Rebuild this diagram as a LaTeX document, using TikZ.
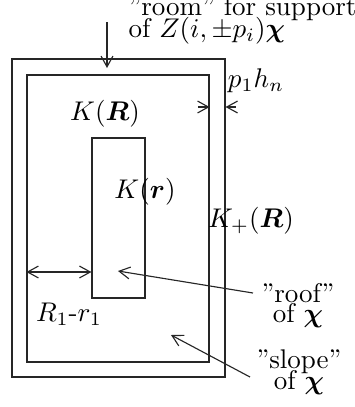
\documentclass[tikz,border=0pt]{standalone}
\usepackage{amsmath}
\usepackage{tikz}
\usetikzlibrary{arrows.meta}

\newlength\pxu
\setlength\pxu{0.37pt}

\tikzset{
  region/.style={draw=black!85,line width=0.42pt,rectangle,inner sep=0pt},
  lbl/.style={inner sep=0pt,anchor=base},
  barb/.tip={Straight Barb[length=4pt,width=4.4pt]},
  pointer/.style={draw=black!85,line width=0.42pt,-barb},
}

\begin{document}
\begin{tikzpicture}[x=\pxu,y=-\pxu]
\useasboundingbox (0,0) rectangle (355,407);
% regions
\node[region,minimum width=213\pxu,minimum height=318\pxu] (outer) at (118.5,218) {};
\node[region,minimum width=182\pxu,minimum height=287\pxu] (inner) at (118,218.5) {};
\node[region,minimum width=53\pxu,minimum height=160\pxu] (small) at (118.5,218) {};
% labels (base = last line)
\node[lbl,anchor=base west,align=left] (room) at (128,37) {''room'' for support\\[-4.2pt]of $Z(i,\pm p_i)\boldsymbol{\chi}$};
\node[lbl] (KR) at (105,120) {$K(\boldsymbol{R})$};
\node[lbl] (Kr) at (145,198) {$K(\boldsymbol{r})$};
\node[lbl] (KpR) at (251,227) {$K_+(\boldsymbol{R})$};
\node[lbl] (ph) at (256,87) {$p_1h_n$};
\node[lbl] (Rr) at (69,321) {$R_1$-$r_1$};
\node[lbl,align=center] (roof) at (298,322) {''roof''\\[-4.6pt]of $\boldsymbol{\chi}$};
\node[lbl,align=center] (slope) at (299,389) {''slope''\\[-4.4pt]of $\boldsymbol{\chi}$};
% pointer ends
\coordinate (roomtail) at (107,22);
\coordinate (roomtip) at (107,68);
\coordinate (phleft) at (198,107);
\coordinate (phright) at (236,107);
\coordinate (dimr) at (0,272);
\coordinate (rooftail) at (253,293);
\coordinate (rooftip) at (118,271);
\coordinate (slopetail) at (250,377);
\coordinate (slopetip) at (171,335);
% arrows
\draw[pointer] (roomtail) -- (roomtip);
\draw[pointer] (phleft) -- (inner.east |- phleft);
\draw[pointer] (phright) -- (outer.east |- phright);
\draw[pointer,barb-barb] (inner.west |- dimr) -- (small.west |- dimr);
\draw[pointer] (rooftail) -- (rooftip);
\draw[pointer] (slopetail) -- (slopetip);
\end{tikzpicture}
\end{document}
